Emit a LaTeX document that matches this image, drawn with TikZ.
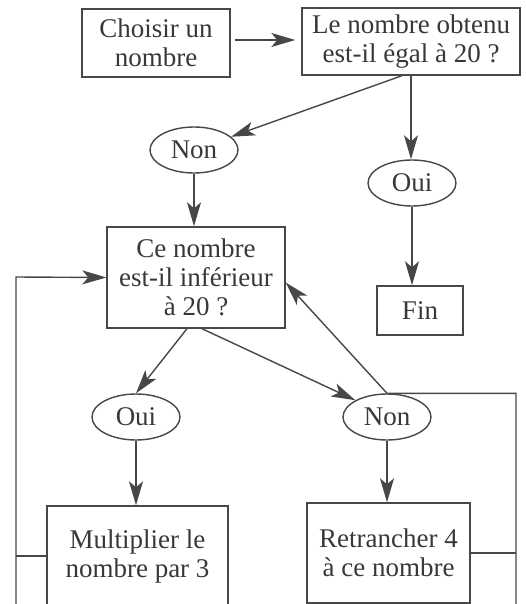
\documentclass[tikz,border=0pt]{standalone}
\usepackage{fontspec}
\setmainfont{Liberation Serif}
\usetikzlibrary{shapes.geometric, arrows.meta, calc}
\colorlet{flowGray}{black!72}
\colorlet{flowText}{black!78}
\tikzstyle{box}=[draw=flowGray, rectangle, align=center, text=flowText, inner sep=0pt]
\tikzstyle{reply}=[draw=flowGray, ellipse, align=center, text=flowText, inner sep=0pt, minimum width=88pt, minimum height=46pt]
\tikzstyle{link}=[draw=flowGray, -{Stealth[length=24pt, width=14pt, inset=6pt]}]

\begin{document}
\begin{tikzpicture}[x=1pt, y=-1pt, line width=1.4pt, font=\fontsize{27}{29}\selectfont]
	\useasboundingbox (0,0) rectangle (525,604);

	\node[box, minimum width=148pt, minimum height=68pt] (choisir) at (156,43) {Choisir un\\nombre};
	\node[box, minimum width=218pt, minimum height=67pt] (egal) at (411,41.5) {Le nombre obtenu\\est-il égal à 20 ?};
	\node[reply] (non1) at (194,150) {Non};
	\node[reply] (oui1) at (412,183) {Oui};
	\node[box, minimum width=178pt, minimum height=101pt] (inf) at (196,277.5) {Ce nombre\\est-il inférieur\\à 20 ?};
	\node[box, minimum width=86pt, minimum height=49pt] (fin) at (420,310.5) {Fin};
	\node[reply] (oui2) at (136,417) {Oui};
	\node[reply] (non2) at (387,417) {Non};
	\node[box, minimum width=181pt, minimum height=100pt] (mult) at (137.5,556) {Multiplier le\\nombre par 3};
	\node[box, minimum width=163pt, minimum height=100pt] (retr) at (388.5,553) {Retrancher 4\\à ce nombre};

	\coordinate (ltop) at (16,277);
	\coordinate (lbot) at (16,612);
	\coordinate (rbot) at (516,612);

	\draw[link, shorten <=4pt, shorten >=6pt] (choisir.east |- 0,40) -- (egal.west |- 0,40);
	\draw[link] ($(egal.south)+(-9,0)$) -- (non1);
	\draw[link] (egal.south) -- (egal.south |- oui1.north);
	\draw[link] (non1.south) -- (non1.south |- inf.north);
	\draw[link] (oui1.south) -- (oui1.south |- fin.north);
	\draw[link] ($(inf.south)+(-9,0)$) -- (oui2.north);
	\draw[link] ($(inf.south)+(6,0)$) -- (non2.north west);
	\draw[link] (oui2.south) -- (oui2.south |- mult.north);
	\draw[link] (non2.south) -- (non2.south |- retr.north);

	\draw[link] (lbot) -- (ltop) -- (inf.west);
	\draw[draw=flowGray] (mult.west) -- (mult.west -| ltop);
	\draw[link] (rbot) -- (non2.north -| rbot) -- (non2.north) -- ($(inf.east)+(0,5)$);
	\draw[draw=flowGray] (retr.east) -- (retr.east -| rbot);
\end{tikzpicture}
\end{document}
